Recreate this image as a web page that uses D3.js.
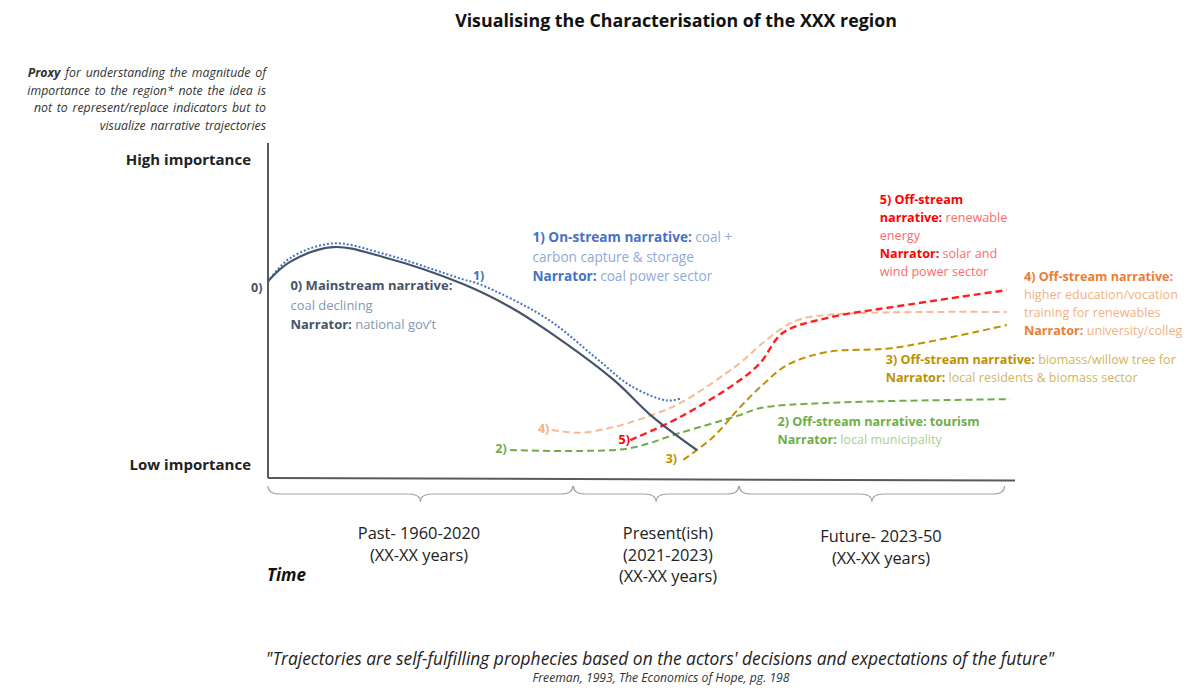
<!DOCTYPE html>
<html>
<head>
<meta charset="utf-8">
<script src="https://cdn.jsdelivr.net/npm/d3@7"></script>
<style>
  body { margin: 0; background: #fff; }
  svg text { font-family: "Open Sans", Lato, sans-serif; }
</style>
</head>
<body>
<script>
// trajectories, time 0-100 (x) vs importance 0-100 (y)
var mainstream = [[0,61.9],[2.9,67.9],[8.7,72.6],[15.4,69.5],[26.1,61.0],[32.4,53.8],[37.3,46.5],[46.2,31.0],[51.5,19.2],[57.4,8.8]];
var onstream = [[0,61.3],[2.9,68.6],[8.7,73.3],[15.4,70.1],[26.1,62.0],[28.4,60.4],[37.3,49.7],[44.0,37.1],[48.5,28.6],[53.4,23.9],[55.2,24.5]];
var tourism = [[32.4,8.8],[41.8,8.5],[48.5,9.4],[55.2,14.2],[63.2,19.8],[65.9,22.0],[74.8,23.6],[99.3,24.8]];
var biomass = [[55.6,5.7],[59.6,12.9],[63.2,22.3],[65.9,28.6],[69.5,35.5],[74.8,39.6],[83.7,40.9],[98.9,48.1]];
var education = [[38.0,15.1],[41.8,14.2],[46.2,16.0],[50.7,19.2],[55.2,23.6],[63.2,36.2],[65.9,41.8],[70.3,49.1],[74.8,51.3],[98.9,52.2]];
var renewable = [[48.5,11.9],[55.2,19.2],[63.2,30.8],[65.9,36.2],[68.9,45.6],[74.8,50.3],[83.7,53.8],[98.9,59.1]];

var periods = [
  {name: "Past", from: 0, to: 40.8, lines: ["Past- 1960-2020", "(XX-XX years)"]},
  {name: "Present", from: 40.9, to: 63.0, lines: ["Present(ish)", "(2021-2023)", "(XX-XX years)"]},
  {name: "Future", from: 63.1, to: 98.6, lines: ["Future- 2023-50", "(XX-XX years)"]}
];

var noteLines = [
  [["Proxy", true], [" for understanding  the magnitude  of", false]],
  [["importance  to the region* note the idea is", false]],
  [["not to represent/replace indicators but to", false]],
  [["visualize narrative trajectories", false]]
];

var narratives = [
  {id: "0", data: mainstream, stroke: "#44546a", dash: null, width: 2.2,
   tag: [-1.5, 58.5], bold: "#44546a", light: "#8497b0", at: [3, 59.0],
   text: [[["0) Mainstream narrative:", true]], [["coal declining", false]], [["Narrator:", true], [" national gov\u2019t", false]]]},
  {id: "1", data: onstream, stroke: "#4472c4", dash: "2,2", width: 2,
   tag: [28.2, 62.3], bold: "#4472c4", light: "#8faadc", at: [35.4, 74.2],
   text: [[["1) On-stream narrative:", true], [" coal +", false]], [["carbon capture & storage", false]], [["Narrator:", true], [" coal power sector", false]]]},
  {id: "2", data: tourism, stroke: "#70ad47", dash: "7,4", width: 2,
   tag: [31.2, 7.8], bold: "#70ad47", light: "#a9d18e", at: [68.2, 16.5],
   text: [[["2) Off-stream narrative:  tourism", true]], [["Narrator:", true], ["  local municipality", false]]]},
  {id: "3", data: biomass, stroke: "#bf9000", dash: "7,4", width: 2,
   tag: [54.0, 4.6], bold: "#bf9000", light: "#d4b55a", at: [82.7, 35.9],
   text: [[["3) Off-stream narrative:", true], [" biomass/willow tree for", false]], [["Narrator:", true], ["  local residents  & biomass sector", false]]]},
  {id: "4", data: education, stroke: "#f8b993", dash: "7,4", width: 2,
   tag: [36.9, 14.0], bold: "#ed7d31", light: "#f4b183", at: [101.2, 61.9],
   text: [[["4) Off-stream narrative:", true]], [["higher education/vocation", false]], [["training  for renewables", false]], [["Narrator:", true], [" university/colleg", false]]]},
  {id: "5", data: renewable, stroke: "#ff1f1f", dash: "7,4", width: 2.4,
   tag: [47.7, 10.7], bold: "#ff0000", light: "#ff6b6b", at: [81.9, 86.2],
   text: [[["5) Off-stream", true]], [["narrative:", true], [" renewable", false]], [["energy", false]], [["Narrator:", true], [" solar and", false]], [["wind power sector", false]]]}
];

var width = 1189, height = 688;
var svg = d3.select("body").append("svg")
  .attr("width", width).attr("height", height);

var x = d3.scaleLinear().domain([0, 100]).range([268, 1015]);
var y = d3.scaleLinear().domain([0, 100]).range([478, 160]);

// title
svg.append("text")
  .attr("x", 676).attr("y", 27)
  .attr("text-anchor", "middle")
  .attr("font-size", 17.8).attr("font-weight", "bold")
  .attr("fill", "#111")
  .text("Visualising the Characterisation of the XXX region");

// proxy note
var note = svg.append("text")
  .attr("text-anchor", "end")
  .attr("font-size", 12.3).attr("font-style", "italic")
  .attr("word-spacing", 1.6)
  .attr("fill", "#333");
noteLines.forEach(function(line, i) {
  line.forEach(function(part, j) {
    var t = note.append("tspan").text(part[0]);
    if (j === 0) t.attr("x", 266).attr("y", 77 + i * 17.5);
    if (part[1]) t.attr("font-weight", "bold");
  });
});

// axes
svg.append("line")
  .attr("x1", x(0)).attr("x2", x(0))
  .attr("y1", 143).attr("y2", y(0))
  .attr("stroke", "#595959").attr("stroke-width", 2);
svg.append("line")
  .attr("x1", x(0)).attr("x2", x(100))
  .attr("y1", y(0)).attr("y2", y(-0.8))
  .attr("stroke", "#595959").attr("stroke-width", 2);

svg.append("text")
  .attr("x", 251).attr("y", 165)
  .attr("text-anchor", "end")
  .attr("font-size", 15).attr("font-weight", "bold").attr("fill", "#222")
  .text("High importance");
svg.append("text")
  .attr("x", 251).attr("y", 470)
  .attr("text-anchor", "end")
  .attr("font-size", 15).attr("font-weight", "bold").attr("fill", "#222")
  .text("Low importance");

// curves
var line = d3.line()
  .x(function(d) { return x(d[0]); })
  .y(function(d) { return y(d[1]); })
  .curve(d3.curveCatmullRom.alpha(0.5));

// draw order: future lines first, mainstream on top of dotted
var order = ["2", "3", "4", "5", "1", "0"];
order.forEach(function(id) {
  var n = narratives.find(function(d) { return d.id === id; });
  var p = svg.append("path")
    .attr("class", "trajectory")
    .attr("d", line(n.data))
    .attr("fill", "none")
    .attr("stroke", n.stroke)
    .attr("stroke-width", n.width);
  if (n.dash) p.attr("stroke-dasharray", n.dash);
  if (id === "1") p.attr("transform", "translate(0,-1.5)");
});

// small number tags next to the curves
narratives.forEach(function(n) {
  svg.append("text")
    .attr("x", x(n.tag[0])).attr("y", y(n.tag[1]))
    .attr("text-anchor", "middle")
    .attr("font-size", 12.5).attr("font-weight", "bold")
    .attr("fill", n.id === "4" ? n.light : n.bold)
    .text(n.id + ")");
});

// narrative descriptions
narratives.forEach(function(n) {
  var big = (n.id === "0" || n.id === "1");
  var lh = big ? 19.5 : 18;
  var t = svg.append("text")
    .attr("font-size", n.id === "1" ? 13.6 : (n.id === "0" ? 13 : 12.6));
  n.text.forEach(function(row, i) {
    row.forEach(function(part, j) {
      var s = t.append("tspan").text(part[0])
        .attr("fill", part[1] ? n.bold : n.light)
        .attr("font-weight", part[1] ? "bold" : "normal");
      if (j === 0) s.attr("x", x(n.at[0])).attr("y", y(n.at[1]) + i * lh);
    });
  });
});

// braces under the time axis
function brace(x0, x1, top, depth) {
  var m = (x0 + x1) / 2, q = depth / 2;
  return "M" + x0 + "," + top +
    " Q" + x0 + "," + (top + q) + " " + (x0 + 12) + "," + (top + q) +
    " L" + (m - 12) + "," + (top + q) +
    " Q" + m + "," + (top + q) + " " + m + "," + (top + depth) +
    " Q" + m + "," + (top + q) + " " + (m + 12) + "," + (top + q) +
    " L" + (x1 - 12) + "," + (top + q) +
    " Q" + x1 + "," + (top + q) + " " + x1 + "," + top;
}
periods.forEach(function(p) {
  svg.append("path")
    .attr("d", brace(x(p.from), x(p.to), 486, 16))
    .attr("fill", "none")
    .attr("stroke", "#a6a6a6").attr("stroke-width", 1.2);
});

var labelPos = {Past: [419, 539], Present: [668, 539], Future: [881, 542]};
periods.forEach(function(p) {
  var pos = labelPos[p.name];
  var t = svg.append("text")
    .attr("text-anchor", "middle")
    .attr("font-size", 16.4).attr("fill", "#222");
  p.lines.forEach(function(l, i) {
    t.append("tspan").attr("x", pos[0]).attr("y", pos[1] + i * 21.5).text(l);
  });
});

svg.append("text")
  .attr("x", 267).attr("y", 581)
  .attr("font-size", 17).attr("font-weight", "bold").attr("font-style", "italic")
  .attr("fill", "#111")
  .text("Time");

// quote
svg.append("text")
  .attr("x", 660).attr("y", 665)
  .attr("text-anchor", "middle")
  .attr("font-size", 17.4).attr("font-style", "italic").attr("fill", "#222")
  .text("\"Trajectories are self-fulfilling prophecies based on the actors' decisions and expectations of the future\"");
svg.append("text")
  .attr("x", 661).attr("y", 682)
  .attr("text-anchor", "middle")
  .attr("font-size", 12.2).attr("font-style", "italic").attr("fill", "#333")
  .text("Freeman, 1993, The Economics of Hope, pg. 198");
</script>
</body>
</html>
